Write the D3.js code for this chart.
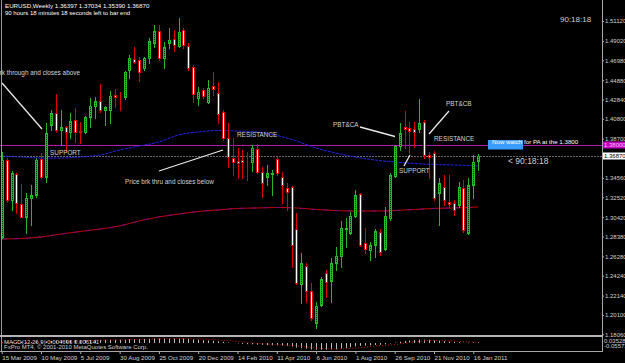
<!DOCTYPE html>
<html>
<head>
<meta charset="utf-8">
<script src="https://cdn.jsdelivr.net/npm/d3@7"></script>
<style>
body { margin: 0; background: #000; }
svg { display: block; font-family: "Liberation Sans", Arial, sans-serif; }
</style>
</head>
<body>
<svg width="625" height="363"></svg>
<script>
const TICK_LABELS = ['15 Mar 2009', '10 May 2009', '5 Jul 2009', '30 Aug 2009', '25 Oct 2009', '20 Dec 2009',
  '14 Feb 2010', '11 Apr 2010', '6 Jun 2010', '1 Aug 2010', '26 Sep 2010', '21 Nov 2010', '16 Jan 2011'];
// 1.36660 sits under the current price box, so it is left out
const PRICE_TICKS = [1.5112, 1.4902, 1.4698, 1.4488, 1.4284, 1.408, 1.387, 1.3456, 1.3252,
  1.3042, 1.2838, 1.2628, 1.2424, 1.2214, 1.201, 1.1806];

// weekly bars, one per week from 15 Mar 2009
const OPEN = [1.2833,1.3645,1.3223,1.3498,1.3181,1.3044,1.3244,1.3276,1.3656,1.3466,
  1.4015,1.4141,1.3962,1.3993,1.3941,1.4067,1.3950,1.3941,1.4099,1.4215,
  1.4268,1.4173,1.4173,1.4331,1.4315,1.4310,1.4595,1.4711,1.4700,1.4616,
  1.4722,1.4880,1.5006,1.4722,1.4880,1.4922,1.4848,1.5017,1.4848,1.4627,
  1.4299,1.4384,1.4257,1.4426,1.4352,1.4152,1.3877,1.3666,1.3635,1.3640,
  1.3628,1.3624,1.3761,1.3519,1.3466,1.3498,1.3656,1.3466,1.3350,1.3361,
  1.2917,1.2337,1.2527,1.2263,1.1925,1.2115,1.2453,1.2369,1.2558,1.2632,
  1.2917,1.2875,1.3054,1.3287,1.2769,1.2695,1.2748,1.2885,1.2706,1.3033,
  1.3477,1.3793,1.3993,1.3983,1.3972,1.3972,1.4046,1.3698,1.3719,1.3297,
  1.3361,1.3202,1.3192,1.3171,1.3350,1.2875,1.3382,1.36397];
const HIGH = [1.3730,1.3666,1.3529,1.3508,1.3392,1.3297,1.3382,1.3666,1.3719,1.4036,
  1.4173,1.4342,1.4173,1.4004,1.4141,1.4194,1.4046,1.4110,1.4299,1.4310,
  1.4447,1.4215,1.4373,1.4394,1.4363,1.4584,1.4753,1.4838,1.4732,1.4732,
  1.4933,1.5070,1.5070,1.4891,1.5038,1.5017,1.5144,1.5038,1.4880,1.4648,
  1.4416,1.4405,1.4489,1.4574,1.4468,1.4173,1.4036,1.3877,1.3772,1.3751,
  1.3730,1.3803,1.3814,1.3571,1.3593,1.3540,1.3677,1.3519,1.3403,1.3371,
  1.3086,1.2664,1.2558,1.2347,1.2147,1.2411,1.2485,1.2611,1.2727,1.3002,
  1.3033,1.3097,1.3329,1.3297,1.2928,1.2780,1.2917,1.2917,1.3150,1.3508,
  1.3803,1.4036,1.4162,1.4046,1.4046,1.4289,1.4067,1.3730,1.3740,1.3455,
  1.3487,1.3487,1.3223,1.3413,1.3434,1.3455,1.3698,1.37034];
const LOW = [1.2822,1.3202,1.3118,1.3086,1.3040,1.2875,1.2960,1.3255,1.3455,1.3413,
  1.3962,1.3941,1.3803,1.3730,1.3877,1.3835,1.3824,1.3930,1.3993,1.4088,
  1.4152,1.4015,1.4036,1.4205,1.4173,1.4290,1.4510,1.4669,1.4479,1.4595,
  1.4669,1.4838,1.4700,1.4616,1.4827,1.4795,1.4838,1.4827,1.4595,1.4257,
  1.4226,1.4299,1.4247,1.4331,1.4036,1.3856,1.3571,1.3487,1.3455,1.3455,
  1.3434,1.3529,1.3508,1.3255,1.3382,1.3276,1.3487,1.3192,1.3118,1.2516,
  1.2340,1.2136,1.2147,1.1957,1.1872,1.2105,1.2200,1.2147,1.2485,1.2516,
  1.2727,1.2865,1.3044,1.2738,1.2664,1.2590,1.2622,1.2643,1.2695,1.3012,
  1.3466,1.3751,1.3772,1.3719,1.3782,1.3941,1.3666,1.3455,1.3223,1.2960,
  1.3171,1.3150,1.3065,1.3150,1.2885,1.2865,1.3244,1.35390];
const CLOSE = [1.3645,1.3223,1.3508,1.3192,1.3044,1.3244,1.3276,1.3645,1.3466,1.3930,
  1.4141,1.3962,1.3993,1.3941,1.4057,1.3941,1.3945,1.4099,1.4215,1.4268,
  1.4173,1.4205,1.4321,1.4310,1.4310,1.4574,1.4722,1.4679,1.4574,1.4722,
  1.4901,1.5006,1.4722,1.4838,1.4912,1.4859,1.4996,1.4859,1.4616,1.4342,
  1.4363,1.4321,1.4405,1.4394,1.4131,1.3877,1.3677,1.3624,1.3614,1.3619,
  1.3619,1.3772,1.3519,1.3403,1.3508,1.3508,1.3508,1.3382,1.3308,1.2748,
  1.2350,1.2558,1.2263,1.1978,1.2105,1.2390,1.2358,1.2558,1.2632,1.2928,
  1.2928,1.3054,1.3276,1.2748,1.2706,1.2748,1.2896,1.2674,1.3054,1.3487,
  1.3793,1.3930,1.3972,1.3951,1.3941,1.4036,1.3698,1.3677,1.3244,1.3403,
  1.3223,1.3181,1.3118,1.3361,1.2907,1.3382,1.3624,1.36870];

// moving averages read every 4 bars
const MA_BARS = [0,4,8,12,16,20,24,28,32,36,40,44,48,52,56,60,64,68,72,76,80,84,88,92,97];
const MA_BLUE = [1.3687,1.3677,1.3666,1.3666,1.3677,1.3698,1.3751,1.3793,1.3835,1.3909,1.3941,1.3957,
  1.3951,1.3941,1.3904,1.3846,1.3772,1.3719,1.3677,1.3645,1.3624,1.3608,1.3598,1.3593,1.3582];
const MA_RED = [1.2812,1.2817,1.2833,1.2864,1.2891,1.2917,1.2949,1.3002,1.3044,1.3075,1.3102,1.3118,
  1.3134,1.3139,1.3144,1.3139,1.3123,1.3112,1.3107,1.3107,1.3112,1.3123,1.3134,1.3139,1.3149];

const MACD = [0.004,0.006,0.006,0.007,0.007,0.007,0.007,0.008,
  0.009,0.012,0.015,0.017,0.018,0.019,0.020,0.020,
  0.020,0.020,0.021,0.022,0.022,0.022,0.023,0.023,
  0.023,0.025,0.027,0.028,0.028,0.029,0.030,0.032,
  0.032,0.032,0.032,0.032,0.033,0.032,0.030,0.026,
  0.023,0.020,0.018,0.016,0.013,0.009,0.004,0.000,
  -0.003,-0.006,-0.008,-0.009,-0.011,-0.013,-0.015,-0.016,
  -0.016,-0.017,-0.019,-0.025,-0.032,-0.036,-0.040,-0.045,
  -0.047,-0.047,-0.047,-0.045,-0.043,-0.038,-0.034,-0.029,
  -0.023,-0.020,-0.018,-0.016,-0.014,-0.013,-0.009,-0.003,
  0.003,0.009,0.014,0.018,0.021,0.024,0.024,0.023,
  0.019,0.016,0.013,0.010,0.007,0.006,0.002,0.003,
  0.004,0.0047];
const SIGNAL = [0.002,0.005,0.007,0.012,0.017,0.020,0.022,0.026,0.029,0.031,0.029,0.022,
  0.011,-0.002,-0.011,-0.020,-0.034,-0.042,-0.035,-0.022,-0.010,0.008,0.018,0.014,0.006];

const svg = d3.select('svg');
svg.append('rect').attr('width', 625).attr('height', 363).attr('fill', '#000');

const defs = svg.append('defs');
defs.append('clipPath').attr('id', 'main').append('rect').attr('width', 602).attr('height', 335);
const pat = defs.append('pattern').attr('id', 'dots').attr('patternUnits', 'userSpaceOnUse')
  .attr('width', 1).attr('height', 2);
pat.append('rect').attr('width', 1).attr('height', 1).attr('fill', '#1fae1f');
pat.append('rect').attr('y', 1).attr('width', 1).attr('height', 1).attr('fill', '#062806');

const xScale = d3.scaleLinear().domain([0, 96]).range([1.7, 473.3]);
const yScale = d3.scaleLinear().domain([1.1806, 1.5112]).range([334.3, 21]);
const yMacd = d3.scaleLinear().domain([-0.05573, 0.03528]).range([351, 338]);
const cx = (i) => Math.round(xScale(i));

const bars = OPEN.map((o, i) => ({ i, o, h: HIGH[i], l: LOW[i], c: CLOSE[i] }));
const main = svg.append('g').attr('clip-path', 'url(#main)');

// left edge line
svg.append('line').attr('x1', 1.5).attr('x2', 1.5).attr('y1', 0).attr('y2', 352)
  .attr('stroke', '#9a9a9a');

// horizontal levels
main.append('line').attr('x1', 0).attr('x2', 602)
  .attr('y1', Math.round(yScale(1.38)) + 0.5).attr('y2', Math.round(yScale(1.38)) + 0.5)
  .attr('stroke', '#b018b0');
main.append('line').attr('x1', 0).attr('x2', 602)
  .attr('y1', Math.round(yScale(1.3687)) + 0.5).attr('y2', Math.round(yScale(1.3687)) + 0.5)
  .attr('stroke', '#6a6a6a').attr('stroke-dasharray', '2,1');

// moving averages
const maLine = (vals) => d3.line().x((d, k) => xScale(MA_BARS[k])).y((d) => yScale(d))
  .curve(d3.curveMonotoneX)(vals);
main.append('path').attr('d', maLine(MA_RED)).attr('fill', 'none').attr('stroke', '#c80000');
main.append('path').attr('d', maLine(MA_RED)).attr('fill', 'none').attr('stroke', '#7a0a7a')
  .attr('stroke-dasharray', '5,7');
main.append('path').attr('d', maLine(MA_BLUE)).attr('fill', 'none').attr('stroke', '#2424f0')
  .attr('stroke-dasharray', '3,1');

// candles
const candle = main.selectAll('.candle').data(bars).enter().append('g').classed('candle', true);
candle.append('line')
  .attr('x1', (d) => cx(d.i) + 0.5).attr('x2', (d) => cx(d.i) + 0.5)
  .attr('y1', (d) => Math.round(yScale(d.h))).attr('y2', (d) => Math.round(yScale(d.l)) + 1)
  .attr('stroke', (d) => (d.c >= d.o ? '#22b822' : '#e00000'));
candle.append('rect')
  .attr('x', (d) => cx(d.i) - 0.5)
  .attr('y', (d) => Math.round(yScale(Math.max(d.o, d.c))) + 0.5)
  .attr('width', 2)
  .attr('height', (d) => Math.max(0, Math.round(yScale(Math.min(d.o, d.c))) - Math.round(yScale(Math.max(d.o, d.c)))))
  .attr('fill', (d) => (d.c >= d.o ? 'url(#dots)' : '#ffffff'))
  .attr('stroke', (d) => (d.c >= d.o ? '#22c022' : '#e00000'));

// annotations
const note = (x, y, t, anchor) => svg.append('text').attr('x', x).attr('y', y).text(t)
  .attr('fill', '#d4d4d4').attr('font-size', 6.4).attr('text-anchor', anchor || 'start');
const stroke = (x1, y1, x2, y2) => svg.append('line').attr('x1', x1).attr('y1', y1)
  .attr('x2', x2).attr('y2', y2).attr('stroke', '#e8e8e8').attr('stroke-width', 1.3);

note(80, 75, 'Price brk through and closes above', 'end');
stroke(2, 83, 42, 129);
note(50, 155, 'SUPPORT');
note(237, 137, 'RESISTANCE');
stroke(159, 171, 223, 150);
note(125, 184, 'Price brk thru and closes below');
note(333, 126.5, 'PBT&CA');
stroke(360, 127, 395, 136.5);
note(446, 106, 'PBT&CB');
stroke(449, 111, 429, 134);
note(434, 141, 'RESISTANCE');
note(399, 173, 'SUPPORT');
stroke(404, 166, 410, 155);

svg.append('rect').attr('x', 488).attr('y', 140).attr('width', 35).attr('height', 9.5).attr('fill', '#3a9cff');
svg.append('text').attr('x', 492).attr('y', 143.5).text('Now watch for PA at the 1.3800')
  .attr('fill', '#ffffff').attr('font-size', 6.2);
svg.append('text').attr('x', 508).attr('y', 163.5).text('< 90:18:18')
  .attr('fill', '#d0d0d0').attr('font-size', 8.5);
svg.append('text').attr('x', 560).attr('y', 22).text('90:18:18')
  .attr('fill', '#d0d0d0').attr('font-size', 8);

svg.append('text').attr('x', 5).attr('y', 8).text('EURUSD,Weekly  1.36397 1.37034 1.35390 1.36870')
  .attr('fill', '#ffffff').attr('font-size', 6.2);
svg.append('text').attr('x', 5).attr('y', 15).text('90 hours 18 minutes 18 seconds left to bar end')
  .attr('fill', '#ffffff').attr('font-size', 6);

// price axis
const yAxis = svg.append('g').attr('transform', 'translate(602,0)')
  .call(d3.axisRight(yScale).tickValues(PRICE_TICKS).tickSize(2).tickPadding(1)
    .tickFormat(d3.format('.5f')));
yAxis.select('.domain').remove();
yAxis.selectAll('line').attr('stroke', '#b0b0b0');
yAxis.selectAll('text').attr('fill', '#d0d0d0').attr('font-size', 6)
  .attr('font-family', '"Liberation Sans", Arial, sans-serif');

svg.append('rect').attr('x', 602).attr('y', 141.5).attr('width', 23).attr('height', 7).attr('fill', '#c400c4');
svg.append('text').attr('x', 604).attr('y', 147).text('1.38000').attr('fill', '#f0c0f0').attr('font-size', 6);
svg.append('rect').attr('x', 602).attr('y', 152.5).attr('width', 23).attr('height', 7).attr('fill', '#ffffff');
svg.append('text').attr('x', 604).attr('y', 158).text('1.36870').attr('fill', '#000').attr('font-size', 6);

// panel frame
svg.append('line').attr('x1', 602.5).attr('x2', 602.5).attr('y1', 0).attr('y2', 352).attr('stroke', '#a8a8a8');
svg.append('rect').attr('x', 0).attr('y', 335).attr('width', 603).attr('height', 2).attr('fill', '#b4b4b4');
svg.append('line').attr('x1', 0).attr('x2', 603).attr('y1', 351.5).attr('y2', 351.5).attr('stroke', '#a8a8a8');

// MACD
svg.selectAll('.hist').data(MACD).enter().append('line').classed('hist', true)
  .attr('x1', (d, i) => cx(i) + 0.5).attr('x2', (d, i) => cx(i) + 0.5)
  .attr('y1', yMacd(0)).attr('y2', (d) => yMacd(d))
  .attr('stroke', '#bcbcbc');
svg.append('path')
  .attr('d', d3.line().x((d, k) => xScale(MA_BARS[k])).y((d) => yMacd(d)).curve(d3.curveMonotoneX)(SIGNAL))
  .attr('fill', 'none').attr('stroke', '#d01010').attr('stroke-dasharray', '1,2');
svg.append('text').attr('x', 4).attr('y', 343.5).text('MACD(12,26,9) 0.004696 0.006141')
  .attr('fill', '#d0d0d0').attr('font-size', 6);
svg.append('text').attr('x', 4).attr('y', 349).text('FxPro MT4, © 2001-2010 MetaQuotes Software Corp.')
  .attr('fill', '#d0d0d0').attr('font-size', 6);
svg.append('text').attr('x', 604).attr('y', 342.5).text('0.03528').attr('fill', '#d0d0d0').attr('font-size', 6);
svg.append('text').attr('x', 604).attr('y', 348).text('-0.05573').attr('fill', '#d0d0d0').attr('font-size', 6);

// time axis
const xAxis = svg.append('g').attr('transform', 'translate(0,352)')
  .call(d3.axisBottom(xScale).tickValues(d3.range(0, 97, 8)).tickSize(2).tickPadding(2)
    .tickFormat((d, i) => TICK_LABELS[i]));
xAxis.select('.domain').remove();
xAxis.selectAll('line').attr('stroke', '#b0b0b0');
xAxis.selectAll('text').attr('fill', '#d0d0d0').attr('font-size', 6.2).attr('text-anchor', 'start')
  .attr('font-family', '"Liberation Sans", Arial, sans-serif');
</script>
</body>
</html>
